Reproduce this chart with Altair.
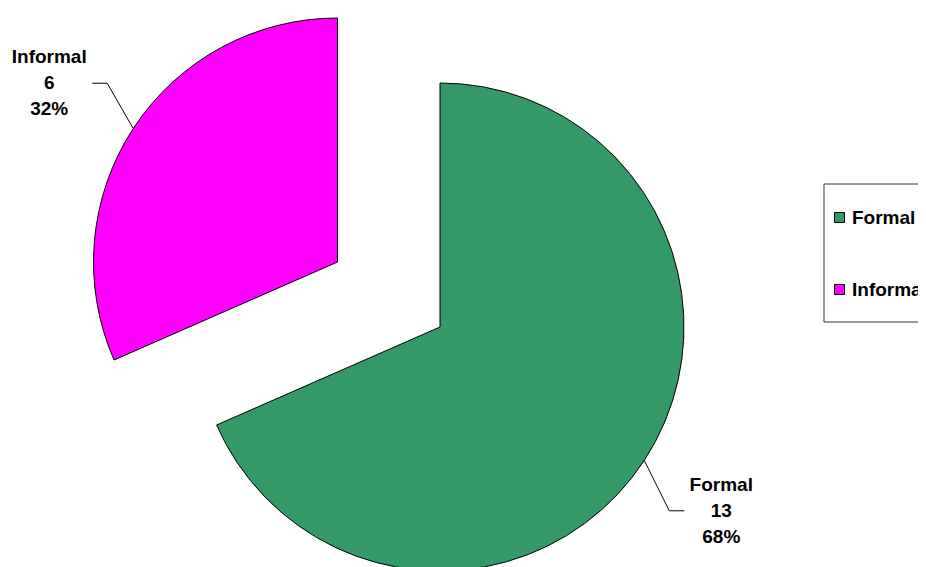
import altair as alt
import pandas as pd

categories = ["Formal", "Informal"]
values = [13, 6]
colors = ["#339966", "#FF00FF"]

df = pd.DataFrame({"category": categories, "value": values, "order": list(range(len(categories)))})

R = 244      # pie radius (px)
T = 336      # label distance from slice centre (px)
LH = 26      # label line height
# slice centres (chart coords, exploded)
CX = {"Formal": 432, "Informal": 329.5}
CY = {"Formal": 319, "Informal": 254}

base = alt.Chart(df).transform_joinaggregate(
    total="sum(value)"
).transform_window(
    cum="sum(value)", sort=[alt.SortField("order")]
).transform_calculate(
    a0="(datum.cum - datum.value) / datum.total * 2 * PI",
    a1="datum.cum / datum.total * 2 * PI",
).transform_calculate(
    mid="(datum.a0 + datum.a1) / 2",
    cx=f"datum.category == 'Formal' ? {CX['Formal']} : {CX['Informal']}",
    cy=f"datum.category == 'Formal' ? {CY['Formal']} : {CY['Informal']}",
    label="datum.category + '\\n' + datum.value + '\\n' + format(datum.value / datum.total, '.0%')",
).transform_calculate(
    s="sin(datum.mid) >= 0 ? 1 : -1",
    ex=f"datum.cx + {R} * sin(datum.mid)",
    ey=f"datum.cy - {R} * cos(datum.mid)",
    tx=f"datum.cx + {T} * sin(datum.mid) + (datum.category == 'Informal' ? -7 : 0)",
    ty=f"datum.cy - {T} * cos(datum.mid) + (datum.category == 'Informal' ? 5 : 0)",
).transform_calculate(
    bx="datum.tx - datum.s * (datum.category == 'Informal' ? 58 : 52)",
    nx="datum.tx - datum.s * (datum.category == 'Informal' ? 43 : 37)",
    ty0=f"datum.ty - {LH}",
)

arcs = base.mark_arc(radius=R, stroke="black", strokeWidth=1).encode(
    x=alt.X("cx:Q", scale=None, axis=None),
    y=alt.Y("cy:Q", scale=None, axis=None),
    theta=alt.Theta("a0:Q", scale=None),
    theta2="a1:Q",
    color=alt.Color(
        "category:N",
        scale=alt.Scale(domain=categories, range=colors),
        legend=alt.Legend(
            title=None,
            orient="none",
            legendX=822,
            legendY=200,
            symbolType="square",
            symbolSize=100,
            symbolStrokeColor="black",
            symbolStrokeWidth=1,
            labelFont="Liberation Sans",
            labelFontSize=19,
            labelFontWeight="bold",
            labelColor="black",
            labelOffset=3,
            rowPadding=52,
            padding=0,
            labelLimit=300,
        ),
    ),
)

leader1 = base.mark_rule(color="black", strokeWidth=1).encode(
    x=alt.X("ex:Q", scale=None, axis=None),
    y=alt.Y("ey:Q", scale=None, axis=None),
    x2="bx:Q",
    y2="ty:Q",
)
leader2 = base.mark_rule(color="black", strokeWidth=1).encode(
    x=alt.X("bx:Q", scale=None, axis=None),
    y=alt.Y("ty:Q", scale=None, axis=None),
    x2="nx:Q",
)

labels = base.mark_text(
    font="Liberation Sans", fontSize=19, fontWeight="bold", color="black",
    lineBreak="\n", lineHeight=LH, align="center", baseline="middle",
).encode(
    x=alt.X("tx:Q", scale=None, axis=None),
    y=alt.Y("ty0:Q", scale=None, axis=None),
    text="label:N",
)

legend_box = alt.Chart(pd.DataFrame({"k": [0]})).mark_rect(
    fill="white", stroke="#333333", strokeWidth=1
).encode(
    x=alt.value(816), x2=alt.value(960), y=alt.value(176), y2=alt.value(314)
)

chart = alt.layer(legend_box, arcs, leader1, leader2, labels).properties(
    width=910, height=559, autosize=alt.AutoSizeParams(type="none"), padding=0
).configure_view(stroke=None)

chart.save("out.html", embed_options={"renderer": "svg", "actions": False})
